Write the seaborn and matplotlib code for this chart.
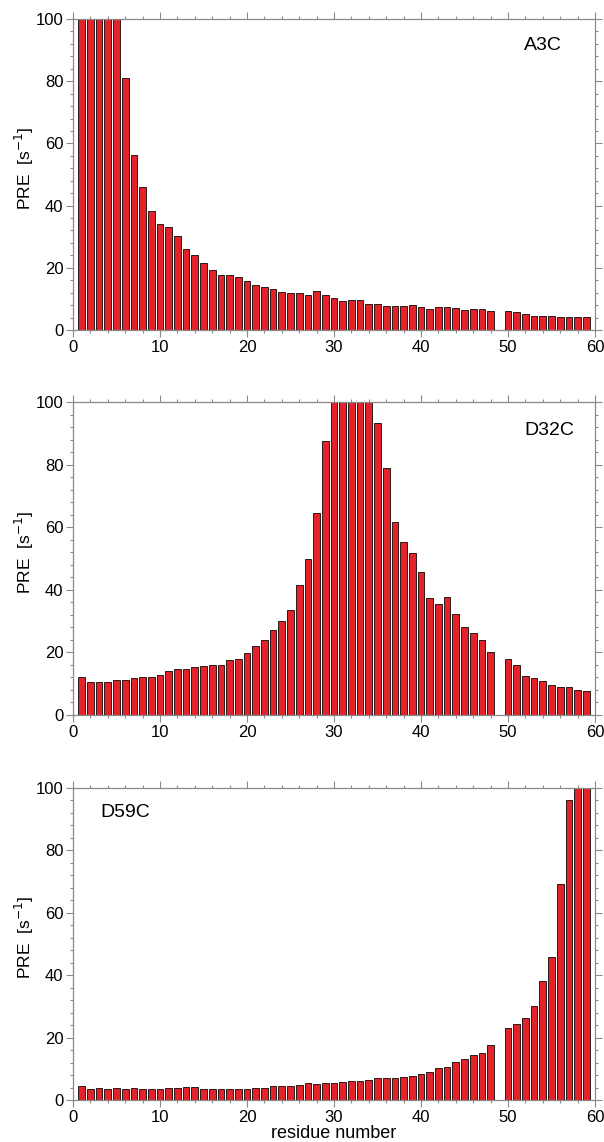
import numpy as np
import pandas as pd
import matplotlib
matplotlib.use("Agg")
import matplotlib.pyplot as plt
from matplotlib.ticker import MultipleLocator
import seaborn as sns

sns.set_theme(style="white")
plt.rcParams['font.family'] = ['Liberation Sans', 'DejaVu Sans']

# residue numbers (residue 49 has no data)
residues = [r for r in range(1, 60) if r != 49]

# PRE rates [s^-1] (values at the axis limit are clipped at 100)
pre_A3C = [100, 100, 100, 100, 100, 81.1, 56.3, 46.1, 38.3, 34.2,
           33.2, 30.2, 26.0, 24.0, 21.5, 19.4, 17.6, 17.6, 16.9, 15.6,
           14.5, 13.8, 13.1, 12.1, 11.8, 12.0, 11.3, 12.4, 11.4, 10.2,
           9.4, 9.8, 9.5, 8.4, 8.3, 7.7, 7.6, 7.6, 8.0, 7.3,
           6.8, 7.3, 7.4, 7.0, 6.5, 6.6, 6.8, 6.0,
           6.2, 5.8, 5.1, 4.5, 4.4, 4.4, 4.3, 4.2, 4.2, 4.2]

pre_D32C = [12.0, 10.4, 10.7, 10.5, 11.3, 11.3, 11.7, 12.2, 12.2, 12.7,
            14.1, 14.8, 14.7, 15.3, 15.6, 16.0, 15.9, 17.6, 18.0, 19.9,
            22.2, 23.9, 27.1, 29.9, 33.4, 41.4, 49.7, 64.4, 87.5, 100,
            100, 100, 100, 100, 93.4, 79.0, 61.8, 55.3, 51.8, 45.6,
            37.5, 35.4, 37.8, 32.2, 28.2, 26.3, 24.1, 20.0,
            18.0, 16.0, 12.6, 11.8, 11.0, 9.7, 8.8, 9.0, 8.0, 7.7]

pre_D59C = [4.5, 3.4, 3.8, 3.6, 3.8, 3.6, 3.8, 3.5, 3.4, 3.5,
            3.7, 4.0, 4.1, 4.1, 3.5, 3.5, 3.5, 3.6, 3.6, 3.6,
            3.8, 4.0, 4.4, 4.5, 4.5, 4.9, 5.4, 5.2, 5.5, 5.6,
            5.8, 6.1, 6.1, 6.4, 7.0, 6.9, 6.9, 7.5, 7.8, 8.2,
            9.0, 10.1, 10.7, 12.2, 13.0, 14.3, 15.2, 17.5,
            23.1, 24.5, 26.2, 30.2, 38.0, 45.8, 69.1, 96.0, 100, 100]

panel_names = ["A3C", "D32C", "D59C"]
x_ticks = [0, 10, 20, 30, 40, 50, 60]
y_ticks = [0, 20, 40, 60, 80, 100]

W, H = 604, 1142
fig = plt.figure(figsize=(W / 100, H / 100), dpi=100)

left = 73 / W
width = (595 - 73) / W
panel_px = [(19, 330), (402, 715), (788, 1100)]
name_pos = [(0.864, 0.915, "left"), (0.864, 0.91, "left"), (0.052, 0.92, "left")]

bar_color = "#E4222A"
spine_color = "#8a8a8a"

for i, (name, vals) in enumerate(zip(panel_names, [pre_A3C, pre_D32C, pre_D59C])):
    top, bot = panel_px[i]
    ax = fig.add_axes([left, 1 - bot / H, width, (bot - top) / H])
    df = pd.DataFrame({"residue": residues, "PRE": vals})
    sns.barplot(data=df, x="residue", y="PRE", native_scale=True, width=0.76,
                color=bar_color, saturation=1, edgecolor="#2a1a1a",
                linewidth=0.7, ax=ax)
    ax.set_xlim(0, 60)
    ax.set_ylim(0, 100)
    ax.set_xticks(x_ticks)
    ax.set_xticklabels([str(t) for t in x_ticks])
    ax.set_yticks(y_ticks)
    ax.set_yticklabels([str(t) for t in y_ticks])
    ax.xaxis.set_minor_locator(MultipleLocator(2))
    ax.yaxis.set_minor_locator(MultipleLocator(4))
    ax.tick_params(which="both", direction="out", top=True, right=True,
                   bottom=True, left=True, labeltop=False, labelright=False,
                   color=spine_color, width=0.8, labelsize=12, labelcolor="black")
    ax.tick_params(which="major", length=5, pad=2)
    ax.tick_params(which="minor", length=2.5)
    for s in ax.spines.values():
        s.set_visible(True)
        s.set_color(spine_color)
        s.set_linewidth(0.9)
    ax.set_ylabel("PRE  [s$^{-1}$]", fontsize=12.5, color="black")
    ax.yaxis.set_label_coords(-0.07, 0.52)
    if i == 2:
        ax.set_xlabel("residue number", fontsize=13, labelpad=0.5, color="black")
    else:
        ax.set_xlabel("")
    nx, ny, ha = name_pos[i]
    ax.text(nx, ny, name, transform=ax.transAxes, fontsize=14,
            ha=ha, va="center", color="black")

fig.savefig("out.png", dpi=100)
